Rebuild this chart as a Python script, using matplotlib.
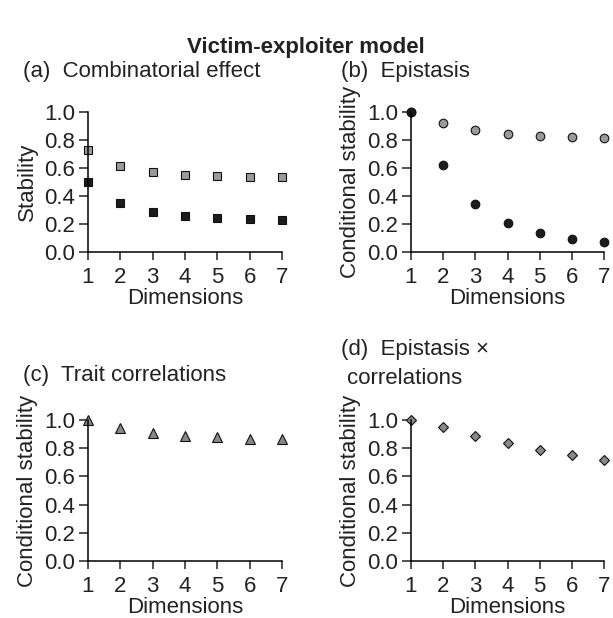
import matplotlib
matplotlib.use('Agg')
import matplotlib.pyplot as plt

plt.rcParams['font.family'] = ['Liberation Sans', 'DejaVu Sans']

FS = 16

dims = [1, 2, 3, 4, 5, 6, 7]

# (a) combinatorial effect
comb_gray = [0.727, 0.617, 0.569, 0.548, 0.540, 0.536, 0.533]
comb_black = [0.500, 0.348, 0.283, 0.257, 0.243, 0.236, 0.231]

# (b) epistasis
epi_gray = [1.0, 0.919, 0.869, 0.845, 0.829, 0.821, 0.817]
epi_black = [1.0, 0.621, 0.345, 0.207, 0.133, 0.090, 0.069]

# (c) trait correlations
corr = [1.0, 0.943, 0.908, 0.889, 0.877, 0.867, 0.862]

# (d) epistasis x correlations
epi_corr = [1.0, 0.950, 0.889, 0.834, 0.789, 0.751, 0.718]

yticks = [0.0, 0.2, 0.4, 0.6, 0.8, 1.0]
GRAY = '#9a9a9a'
DGRAY = '#888888'
BLACK = '#1c1c1c'
TXT = '#222222'

fig = plt.figure(figsize=(6.13, 6.18), dpi=100)

W, H = 613, 618
def place(x0, x1, ytop, ybot):
    return [x0 / W, 1 - ybot / H, (x1 - x0) / W, (ybot - ytop) / H]

ax_a = fig.add_axes(place(88, 282, 112, 252))
ax_b = fig.add_axes(place(411, 604, 112, 252))
ax_c = fig.add_axes(place(88, 282, 420, 561))
ax_d = fig.add_axes(place(411, 604, 420, 561))


def style(ax, ylabel):
    ax.set_xlim(1, 7)
    ax.set_ylim(0, 1)
    ax.set_xticks(dims)
    ax.set_yticks(yticks)
    ax.set_yticklabels(['%.1f' % t for t in yticks])
    for s in ['top', 'right']:
        ax.spines[s].set_visible(False)
    for s in ['left', 'bottom']:
        ax.spines[s].set_linewidth(1.1)
        ax.spines[s].set_zorder(5)
    ax.tick_params(direction='out', width=1.1, labelsize=FS, colors=TXT)
    ax.tick_params(axis='y', length=6.5, pad=3)
    ax.tick_params(axis='x', length=5.5, pad=5.5)
    ax.set_xlabel('Dimensions', fontsize=FS, labelpad=-0.5, color=TXT)
    ax.set_ylabel(ylabel, fontsize=FS, labelpad=4, color=TXT)


style(ax_a, 'Stability')
ax_a.plot(dims, comb_gray, 's', ms=5.5, mfc=GRAY, mec='#111111', mew=0.8, clip_on=False, zorder=3)
ax_a.plot(dims, comb_black, 's', ms=5.5, mfc=BLACK, mec='#111111', mew=0.8, clip_on=False, zorder=3)

style(ax_b, 'Conditional stability')
ax_b.plot(dims, epi_gray, 'o', ms=6.2, mfc=GRAY, mec='#111111', mew=0.8, clip_on=False, zorder=3)
ax_b.plot(dims, epi_black, 'o', ms=6.2, mfc=BLACK, mec='#111111', mew=0.8, clip_on=False, zorder=3)

style(ax_c, 'Conditional stability')
ax_c.plot(dims, corr, '^', ms=7.2, mfc=DGRAY, mec='#111111', mew=0.8, clip_on=False, zorder=3)

style(ax_d, 'Conditional stability')
ax_d.plot(dims, epi_corr, 'D', ms=4.8, mfc=DGRAY, mec='#111111', mew=0.8, clip_on=False, zorder=3)

fig.text(306 / W, 1 - 47 / H, 'Victim-exploiter model', ha='center', va='center',
         fontsize=16, fontweight='bold', color=TXT)
fig.text(23 / W, 1 - 72 / H, '(a)  Combinatorial effect', ha='left', va='center',
         fontsize=FS, color=TXT)
fig.text(341 / W, 1 - 72 / H, '(b)  Epistasis', ha='left', va='center',
         fontsize=FS, color=TXT)
fig.text(23 / W, 1 - 375 / H, '(c)  Trait correlations', ha='left', va='center',
         fontsize=FS, color=TXT)
fig.text(341 / W, 1 - 350 / H, '(d)  Epistasis \u00d7', ha='left', va='center',
         fontsize=FS, color=TXT)
fig.text(347 / W, 1 - 379 / H, 'correlations', ha='left', va='center',
         fontsize=FS, color=TXT)

fig.savefig('out.png', dpi=100)
